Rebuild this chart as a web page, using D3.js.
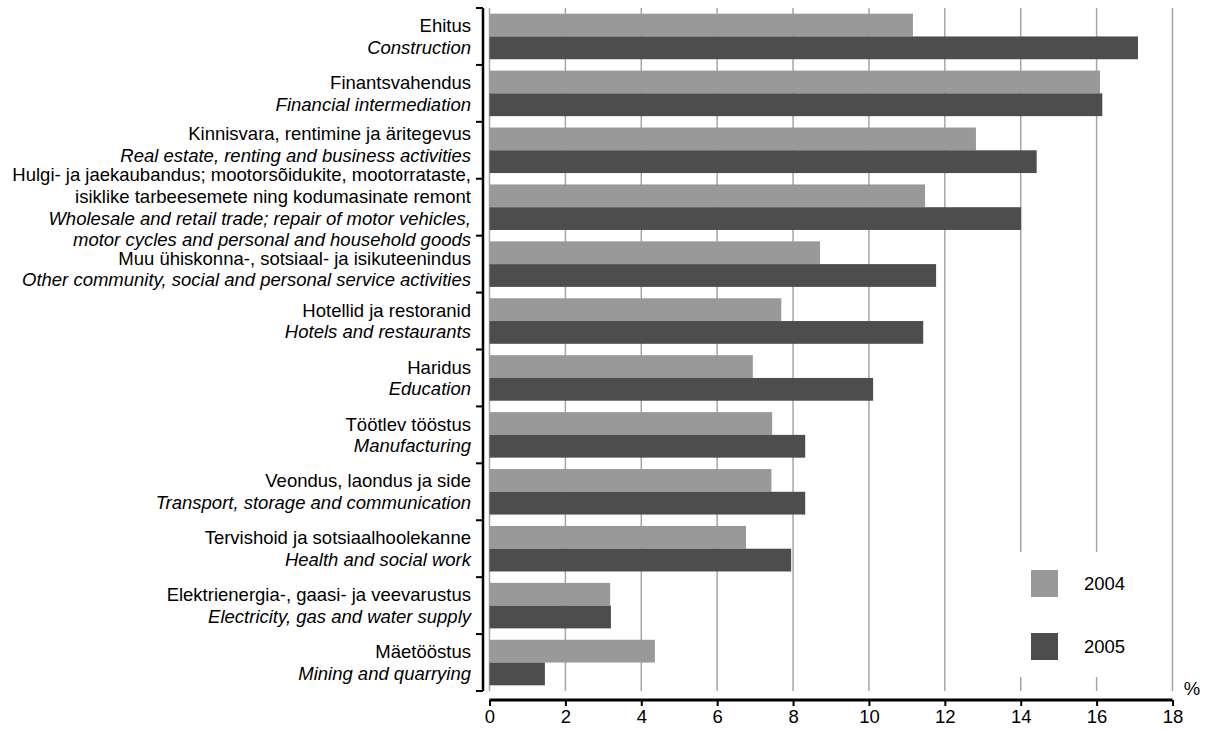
<!DOCTYPE html>
<html>
<head>
<meta charset="utf-8">
<script src="https://cdn.jsdelivr.net/npm/d3@7"></script>
<style>
  html, body { margin: 0; padding: 0; background: #fff; }
  svg { display: block; font-family: "Liberation Sans", Arial, sans-serif; }
</style>
</head>
<body>
<svg id="chart" width="1212" height="731"></svg>
<script>
// ---- data ----
const labelsEt = [
  ["Ehitus"],
  ["Finantsvahendus"],
  ["Kinnisvara, rentimine ja äritegevus"],
  ["Hulgi- ja jaekaubandus; mootorsõidukite, mootorrataste,", "isiklike tarbeesemete ning kodumasinate remont"],
  ["Muu ühiskonna-, sotsiaal- ja isikuteenindus"],
  ["Hotellid ja restoranid"],
  ["Haridus"],
  ["Töötlev tööstus"],
  ["Veondus, laondus ja side"],
  ["Tervishoid ja sotsiaalhoolekanne"],
  ["Elektrienergia-, gaasi- ja veevarustus"],
  ["Mäetööstus"]
];
const labelsEn = [
  ["Construction"],
  ["Financial intermediation"],
  ["Real estate, renting and business activities"],
  ["Wholesale and retail trade; repair of motor vehicles,", "motor cycles and personal and household goods"],
  ["Other community, social and personal service activities"],
  ["Hotels and restaurants"],
  ["Education"],
  ["Manufacturing"],
  ["Transport, storage and communication"],
  ["Health and social work"],
  ["Electricity, gas and water supply"],
  ["Mining and quarrying"]
];
const values2004 = [11.16, 16.09, 12.82, 11.48, 8.71, 7.69, 6.94, 7.45, 7.43, 6.76, 3.18, 4.36];
const values2005 = [17.09, 16.15, 14.42, 14.01, 11.77, 11.43, 10.11, 8.32, 8.32, 7.95, 3.20, 1.46];
const seriesNames = ["2004", "2005"];
const seriesColors = ["#999999", "#4d4d4d"];
const xTicks = [0, 2, 4, 6, 8, 10, 12, 14, 16, 18];
const unitLabel = "%";

// ---- layout ----
const FS = 18.5;
const svg = d3.select("#chart");
const plot = { left: 489.5, right: 1172.5, top: 8, bottom: 691 };
const idx = d3.range(labelsEt.length);

const x = d3.scaleLinear().domain([0, 18]).range([plot.left, plot.right]);
const y = d3.scaleBand().domain(idx).range([plot.top, plot.bottom])
  .paddingInner(0.2).paddingOuter(0.1);
const ySub = d3.scaleBand().domain([0, 1]).range([0, y.bandwidth()]);

// gridlines
svg.append("g").selectAll("line").data(xTicks).join("line")
  .attr("x1", d => x(d)).attr("x2", d => x(d))
  .attr("y1", plot.top).attr("y2", plot.bottom)
  .attr("stroke", "#a6a6a6").attr("stroke-width", 1.5);

// legend background (covers grid)
const lg = svg.append("g");
lg.append("rect").attr("x", 1000).attr("y", 552).attr("width", 160).attr("height", 125).attr("fill", "#fff");

// bars
const series = [values2004, values2005];
series.forEach((vals, s) => {
  svg.append("g").selectAll("rect").data(idx).join("rect")
    .attr("x", x(0))
    .attr("y", i => y(i) + ySub(s))
    .attr("width", i => x(vals[i]) - x(0))
    .attr("height", ySub.bandwidth())
    .attr("fill", seriesColors[s]);
});

// left axis (bracket style)
const axisX = 483;
svg.append("line").attr("x1", axisX).attr("x2", axisX)
  .attr("y1", plot.top).attr("y2", plot.bottom)
  .attr("stroke", "#000").attr("stroke-width", 2.5);
const bounds = idx.map(i => y(i) - y.step() * y.paddingInner() / 2).concat([plot.bottom]);
svg.append("g").selectAll("line").data(bounds).join("line")
  .attr("x1", axisX - 7).attr("x2", axisX)
  .attr("y1", d => d).attr("y2", d => d)
  .attr("stroke", "#000").attr("stroke-width", 2);

// category labels
const lineH = 21.7;
const labelShift = { 2: -6, 4: 5 };
const labelG = svg.append("g").attr("font-size", FS).attr("fill", "#000").attr("text-anchor", "end");
idx.forEach(i => {
  const lines = labelsEt[i].map(t => ({ t, it: false })).concat(labelsEn[i].map(t => ({ t, it: true })));
  const cy = y(i) + y.bandwidth() / 2 + (labelShift[i] || 0);
  const n = lines.length;
  lines.forEach((l, k) => {
    labelG.append("text")
      .attr("x", 471)
      .attr("y", cy + (k - (n - 1) / 2) * lineH)
      .attr("dy", "0.35em")
      .attr("font-style", l.it ? "italic" : "normal")
      .text(l.t);
  });
});

// bottom axis
const xAxis = d3.axisBottom(x).tickValues(xTicks).tickSize(6).tickPadding(4).tickFormat(d3.format("d"));
const gx = svg.append("g").attr("transform", "translate(0,700)").call(xAxis);
gx.select(".domain").attr("stroke", "#000").attr("stroke-width", 3).attr("d", `M${x(0)},0H${x(18)}`);
gx.selectAll(".tick line").attr("stroke", "#000").attr("stroke-width", 2);
gx.selectAll(".tick text").attr("font-size", FS).attr("fill", "#000")
  .attr("font-family", "Liberation Sans, Arial, sans-serif");

svg.append("text").attr("x", 1192).attr("y", 695).attr("text-anchor", "middle")
  .attr("font-size", FS).text(unitLabel);

// legend
seriesNames.forEach((name, s) => {
  const yy = 570 + s * 63;
  lg.append("rect").attr("x", 1031).attr("y", yy).attr("width", 27).attr("height", 27).attr("fill", seriesColors[s]);
  lg.append("text").attr("x", 1084).attr("y", yy + 13.5).attr("dy", "0.35em")
    .attr("font-size", FS).text(name);
});
</script>
</body>
</html>
